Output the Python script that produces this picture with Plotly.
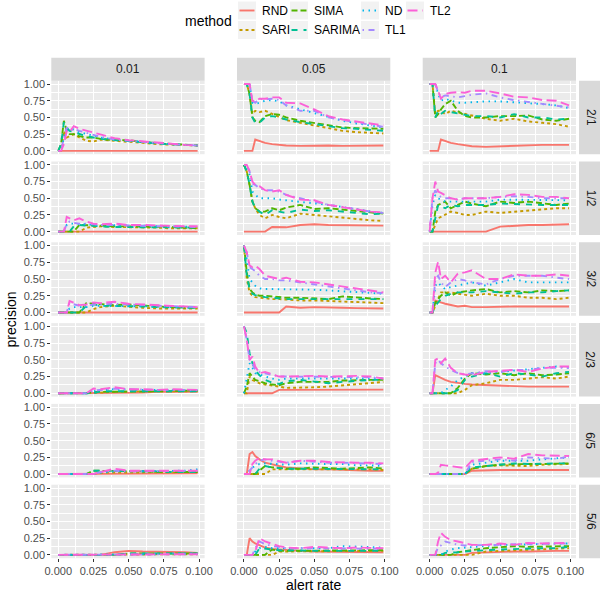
import plotly.graph_objects as go

# ---------------- data ----------------
X = [0, 0.002, 0.004, 0.006, 0.008, 0.011, 0.015, 0.020, 0.025, 0.030,
     0.040, 0.050, 0.060, 0.070, 0.080, 0.090, 0.099]

methods = ["RND", "SARI", "SIMA", "SARIMA", "ND", "TL1", "TL2"]
ratios = ["2/1", "1/2", "3/2", "2/3", "6/5", "5/6"]
levels = ["0.01", "0.05", "0.1"]
x_ticks = [0, 0.025, 0.05, 0.075, 0.1]
x_tick_labels = ["0.000", "0.025", "0.050", "0.075", "0.100"]
y_ticks = [0, 0.25, 0.5, 0.75, 1.0]
y_tick_labels = ["0.00", "0.25", "0.50", "0.75", "1.00"]

Z = [0] * 17

p_21_001 = dict(
    RND=Z,
    SARI=[0, 0, 0.3, 0.2, 0.22, 0.25, 0.2, 0.15, 0.14, 0.17, 0.15, 0.14, 0.12, 0.1, 0.09, 0.08, 0.08],
    SIMA=[0, 0.1, 0.45, 0.3, 0.25, 0.25, 0.22, 0.2, 0.2, 0.18, 0.16, 0.16, 0.13, 0.12, 0.1, 0.09, 0.08],
    SARIMA=[0, 0.1, 0.43, 0.35, 0.3, 0.28, 0.25, 0.22, 0.2, 0.18, 0.16, 0.15, 0.13, 0.11, 0.1, 0.09, 0.08],
    ND=[0, 0, 0.2, 0.3, 0.33, 0.32, 0.28, 0.25, 0.22, 0.2, 0.17, 0.15, 0.13, 0.11, 0.1, 0.09, 0.08],
    TL1=[0, 0, 0.2, 0.35, 0.3, 0.33, 0.3, 0.27, 0.24, 0.21, 0.17, 0.15, 0.13, 0.11, 0.1, 0.09, 0.08],
    TL2=[0, 0, 0.1, 0.3, 0.28, 0.37, 0.33, 0.3, 0.28, 0.24, 0.19, 0.16, 0.14, 0.12, 0.1, 0.09, 0.08],
)
p_21_005 = dict(
    RND=[0, 0, 0, 0, 0.17, 0.15, 0.12, 0.1, 0.09, 0.08, 0.075, 0.08, 0.08, 0.075, 0.075, 0.08, 0.08],
    SARI=[1, 1, 0.85, 0.55, 0.6, 0.58, 0.6, 0.55, 0.5, 0.46, 0.42, 0.38, 0.34, 0.3, 0.28, 0.27, 0.26],
    SIMA=[1, 1, 0.85, 0.5, 0.45, 0.43, 0.52, 0.55, 0.54, 0.5, 0.45, 0.42, 0.38, 0.35, 0.34, 0.33, 0.33],
    SARIMA=[1, 1, 0.85, 0.5, 0.42, 0.42, 0.5, 0.52, 0.5, 0.47, 0.43, 0.4, 0.36, 0.34, 0.33, 0.31, 0.3],
    ND=[1, 1, 1, 0.72, 0.7, 0.72, 0.75, 0.76, 0.74, 0.68, 0.62, 0.56, 0.5, 0.45, 0.41, 0.38, 0.35],
    TL1=[1, 1, 1, 0.75, 0.72, 0.78, 0.77, 0.78, 0.76, 0.68, 0.6, 0.6, 0.5, 0.46, 0.42, 0.39, 0.36],
    TL2=[1, 1, 1, 0.75, 0.74, 0.78, 0.78, 0.8, 0.8, 0.72, 0.71, 0.62, 0.52, 0.47, 0.44, 0.41, 0.38],
)
p_21_01 = dict(
    RND=[0, 0, 0, 0, 0.17, 0.15, 0.12, 0.1, 0.08, 0.07, 0.06, 0.07, 0.08, 0.09, 0.09, 0.09, 0.09],
    SARI=[1, 1, 0.55, 0.6, 0.6, 0.55, 0.6, 0.58, 0.55, 0.53, 0.48, 0.45, 0.48, 0.44, 0.42, 0.4, 0.36],
    SIMA=[1, 1, 0.5, 0.55, 0.62, 0.7, 0.75, 0.6, 0.52, 0.5, 0.5, 0.52, 0.52, 0.53, 0.47, 0.45, 0.48],
    SARIMA=[1, 1, 0.5, 0.6, 0.55, 0.6, 0.58, 0.56, 0.55, 0.52, 0.52, 0.5, 0.55, 0.5, 0.5, 0.47, 0.48],
    ND=[1, 1, 1, 0.85, 0.75, 0.78, 0.75, 0.72, 0.72, 0.73, 0.74, 0.74, 0.73, 0.72, 0.7, 0.68, 0.64],
    TL1=[1, 1, 1, 0.88, 0.8, 0.83, 0.82, 0.8, 0.82, 0.84, 0.86, 0.8, 0.76, 0.73, 0.7, 0.68, 0.65],
    TL2=[1, 1, 1, 0.9, 0.78, 0.85, 0.87, 0.88, 0.87, 0.9, 0.9, 0.86, 0.81, 0.8, 0.76, 0.75, 0.68],
)
p_12_001 = dict(
    RND=Z,
    SARI=[0, 0, 0, 0, 0, 0, 0, 0.06, 0.07, 0.08, 0.07, 0.07, 0.06, 0.06, 0.05, 0.05, 0.05],
    SIMA=[0, 0, 0, 0, 0, 0, 0.1, 0.1, 0.09, 0.09, 0.08, 0.08, 0.08, 0.07, 0.07, 0.06, 0.05],
    SARIMA=[0, 0, 0, 0, 0, 0.08, 0.1, 0.09, 0.08, 0.08, 0.07, 0.07, 0.07, 0.07, 0.06, 0.06, 0.06],
    ND=[0, 0, 0, 0.1, 0.12, 0.12, 0.12, 0.11, 0.1, 0.1, 0.09, 0.09, 0.09, 0.08, 0.08, 0.07, 0.07],
    TL1=[0, 0, 0, 0.12, 0.15, 0.13, 0.12, 0.12, 0.11, 0.1, 0.1, 0.09, 0.09, 0.08, 0.08, 0.07, 0.07],
    TL2=[0, 0, 0, 0.22, 0.2, 0.17, 0.2, 0.15, 0.12, 0.11, 0.12, 0.1, 0.1, 0.09, 0.08, 0.08, 0.08],
)
p_12_005 = dict(
    RND=[0, 0, 0, 0, 0, 0, 0, 0.07, 0.07, 0.065, 0.1, 0.11, 0.1, 0.1, 0.09, 0.09, 0.09],
    SARI=[1, 0.9, 0.7, 0.45, 0.35, 0.25, 0.2, 0.25, 0.22, 0.2, 0.27, 0.25, 0.22, 0.2, 0.18, 0.17, 0.16],
    SIMA=[1, 0.9, 0.7, 0.45, 0.35, 0.3, 0.3, 0.35, 0.32, 0.36, 0.4, 0.34, 0.35, 0.33, 0.3, 0.28, 0.27],
    SARIMA=[1, 0.9, 0.7, 0.45, 0.35, 0.3, 0.25, 0.32, 0.3, 0.28, 0.33, 0.31, 0.32, 0.3, 0.28, 0.26, 0.27],
    ND=[1, 1, 0.85, 0.6, 0.55, 0.5, 0.5, 0.5, 0.48, 0.47, 0.45, 0.42, 0.4, 0.37, 0.33, 0.3, 0.28],
    TL1=[1, 1, 0.9, 0.72, 0.7, 0.65, 0.62, 0.62, 0.6, 0.55, 0.5, 0.45, 0.4, 0.37, 0.33, 0.3, 0.28],
    TL2=[1, 1, 0.9, 0.75, 0.7, 0.68, 0.62, 0.6, 0.62, 0.55, 0.48, 0.47, 0.4, 0.37, 0.34, 0.3, 0.29],
)
p_12_01 = dict(
    RND=[0, 0, 0, 0, 0, 0, 0, 0, 0, 0, 0, 0.075, 0.09, 0.1, 0.1, 0.11, 0.11],
    SARI=[0, 0, 0.1, 0.2, 0.22, 0.25, 0.3, 0.28, 0.25, 0.25, 0.3, 0.28, 0.3, 0.32, 0.33, 0.35, 0.35],
    SIMA=[0, 0, 0.3, 0.4, 0.42, 0.45, 0.35, 0.4, 0.45, 0.42, 0.38, 0.45, 0.43, 0.45, 0.42, 0.4, 0.42],
    SARIMA=[0, 0, 0.2, 0.4, 0.38, 0.35, 0.4, 0.38, 0.4, 0.4, 0.4, 0.42, 0.41, 0.4, 0.4, 0.4, 0.4],
    ND=[0, 0.4, 0.55, 0.5, 0.48, 0.45, 0.45, 0.45, 0.45, 0.44, 0.45, 0.48, 0.48, 0.48, 0.48, 0.47, 0.47],
    TL1=[0, 0.5, 0.62, 0.55, 0.52, 0.5, 0.5, 0.48, 0.5, 0.5, 0.5, 0.52, 0.53, 0.52, 0.5, 0.5, 0.5],
    TL2=[0, 0.5, 0.75, 0.6, 0.58, 0.55, 0.5, 0.48, 0.5, 0.5, 0.5, 0.52, 0.56, 0.55, 0.52, 0.52, 0.5],
)
p_32_001 = dict(
    RND=Z,
    SARI=[0, 0, 0, 0, 0, 0, 0, 0, 0.05, 0.08, 0.1, 0.08, 0.07, 0.06, 0.06, 0.06, 0.06],
    SIMA=[0, 0, 0, 0, 0, 0, 0, 0.14, 0.13, 0.12, 0.11, 0.12, 0.1, 0.09, 0.08, 0.07, 0.07],
    SARIMA=[0, 0, 0, 0, 0, 0, 0, 0.1, 0.12, 0.1, 0.1, 0.1, 0.09, 0.08, 0.08, 0.07, 0.07],
    ND=[0, 0, 0, 0, 0.06, 0.08, 0.08, 0.08, 0.1, 0.1, 0.1, 0.1, 0.09, 0.09, 0.08, 0.08, 0.07],
    TL1=[0, 0, 0, 0, 0.14, 0.12, 0.1, 0.1, 0.12, 0.12, 0.13, 0.12, 0.11, 0.1, 0.09, 0.08, 0.08],
    TL2=[0, 0, 0, 0, 0.17, 0.14, 0.11, 0.12, 0.15, 0.14, 0.16, 0.13, 0.12, 0.1, 0.09, 0.08, 0.08],
)
p_32_005 = dict(
    RND=[0, 0, 0, 0, 0, 0, 0, 0, 0, 0.09, 0.07, 0.08, 0.07, 0.07, 0.065, 0.06, 0.06],
    SARI=[1, 0.5, 0.3, 0.25, 0.23, 0.22, 0.21, 0.2, 0.2, 0.19, 0.18, 0.18, 0.17, 0.16, 0.15, 0.15, 0.14],
    SIMA=[1, 0.6, 0.35, 0.3, 0.27, 0.25, 0.25, 0.24, 0.23, 0.22, 0.22, 0.21, 0.2, 0.24, 0.22, 0.21, 0.2],
    SARIMA=[1, 0.55, 0.35, 0.28, 0.26, 0.24, 0.23, 0.22, 0.21, 0.2, 0.2, 0.2, 0.2, 0.21, 0.2, 0.2, 0.2],
    ND=[1, 0.8, 0.5, 0.45, 0.4, 0.36, 0.35, 0.35, 0.35, 0.34, 0.35, 0.34, 0.33, 0.32, 0.3, 0.29, 0.28],
    TL1=[1, 0.9, 0.68, 0.65, 0.62, 0.55, 0.5, 0.5, 0.48, 0.48, 0.45, 0.42, 0.4, 0.37, 0.33, 0.3, 0.29],
    TL2=[1, 0.9, 0.7, 0.68, 0.7, 0.65, 0.55, 0.53, 0.5, 0.52, 0.46, 0.45, 0.42, 0.38, 0.35, 0.32, 0.3],
)
p_32_01 = dict(
    RND=[0, 0, 0.18, 0.17, 0.15, 0.13, 0.11, 0.09, 0.1, 0.08, 0.08, 0.09, 0.09, 0.09, 0.09, 0.09, 0.09],
    SARI=[0, 0, 0.1, 0.2, 0.3, 0.3, 0.3, 0.28, 0.26, 0.25, 0.28, 0.25, 0.25, 0.22, 0.22, 0.2, 0.22],
    SIMA=[0, 0, 0.15, 0.2, 0.25, 0.3, 0.25, 0.3, 0.32, 0.33, 0.35, 0.3, 0.32, 0.3, 0.33, 0.32, 0.33],
    SARIMA=[0, 0, 0.1, 0.15, 0.2, 0.25, 0.28, 0.3, 0.3, 0.3, 0.32, 0.3, 0.28, 0.3, 0.3, 0.32, 0.33],
    ND=[0, 0, 0.4, 0.45, 0.4, 0.35, 0.38, 0.4, 0.42, 0.45, 0.4, 0.45, 0.5, 0.45, 0.45, 0.45, 0.45],
    TL1=[0, 0, 0.5, 0.55, 0.45, 0.38, 0.45, 0.5, 0.48, 0.45, 0.42, 0.5, 0.55, 0.55, 0.55, 0.52, 0.5],
    TL2=[0, 0, 0.6, 0.76, 0.5, 0.55, 0.45, 0.58, 0.6, 0.63, 0.5, 0.5, 0.57, 0.55, 0.55, 0.57, 0.55],
)
p_23_001 = dict(
    RND=[0, 0, 0, 0, 0, 0, 0, 0, 0, 0, 0, 0.01, 0.01, 0.02, 0.02, 0.02, 0.02],
    SARI=[0, 0, 0, 0, 0, 0, 0, 0, 0, 0.01, 0.02, 0.03, 0.03, 0.03, 0.03, 0.03, 0.03],
    SIMA=[0, 0, 0, 0, 0, 0, 0, 0, 0.02, 0.02, 0.02, 0.03, 0.03, 0.03, 0.03, 0.04, 0.04],
    SARIMA=[0, 0, 0, 0, 0, 0, 0, 0, 0, 0.03, 0.03, 0.04, 0.04, 0.04, 0.03, 0.03, 0.03],
    ND=[0, 0, 0, 0, 0, 0, 0, 0, 0.03, 0.05, 0.06, 0.05, 0.05, 0.05, 0.05, 0.05, 0.04],
    TL1=[0, 0, 0, 0, 0, 0, 0, 0, 0.04, 0.05, 0.07, 0.06, 0.05, 0.05, 0.05, 0.05, 0.05],
    TL2=[0, 0, 0, 0, 0, 0, 0, 0, 0.07, 0.06, 0.09, 0.06, 0.06, 0.05, 0.06, 0.05, 0.05],
)
p_23_005 = dict(
    RND=[0, 0, 0, 0, 0, 0, 0, 0, 0.05, 0.05, 0.05, 0.045, 0.045, 0.045, 0.045, 0.055, 0.055],
    SARI=[0, 0, 0.25, 0.2, 0.18, 0.15, 0.13, 0.12, 0.1, 0.08, 0.08, 0.09, 0.1, 0.12, 0.13, 0.15, 0.17],
    SIMA=[0, 0.1, 0.3, 0.25, 0.2, 0.18, 0.15, 0.13, 0.12, 0.15, 0.17, 0.17, 0.17, 0.19, 0.2, 0.2, 0.2],
    SARIMA=[1, 0.9, 0.6, 0.45, 0.35, 0.27, 0.2, 0.16, 0.14, 0.18, 0.2, 0.18, 0.15, 0.17, 0.19, 0.2, 0.2],
    ND=[0, 0.2, 0.45, 0.38, 0.3, 0.28, 0.25, 0.22, 0.2, 0.22, 0.22, 0.22, 0.22, 0.23, 0.23, 0.23, 0.22],
    TL1=[1, 0.8, 0.5, 0.45, 0.35, 0.32, 0.3, 0.28, 0.25, 0.25, 0.25, 0.25, 0.25, 0.25, 0.25, 0.24, 0.22],
    TL2=[1, 0.8, 0.5, 0.55, 0.4, 0.3, 0.32, 0.28, 0.25, 0.25, 0.26, 0.26, 0.25, 0.26, 0.26, 0.25, 0.22],
)
p_23_01 = dict(
    RND=[0, 0, 0.27, 0.25, 0.22, 0.2, 0.17, 0.15, 0.14, 0.13, 0.12, 0.12, 0.11, 0.1, 0.1, 0.1, 0.1],
    SARI=[0, 0, 0, 0, 0, 0, 0, 0, 0.05, 0.12, 0.15, 0.2, 0.2, 0.22, 0.24, 0.22, 0.25],
    SIMA=[0, 0, 0, 0, 0, 0, 0, 0.08, 0.22, 0.3, 0.28, 0.3, 0.27, 0.3, 0.27, 0.28, 0.3],
    SARIMA=[0, 0, 0, 0, 0, 0, 0, 0.05, 0.2, 0.25, 0.3, 0.25, 0.3, 0.28, 0.25, 0.3, 0.32],
    ND=[0, 0, 0, 0, 0, 0.05, 0.1, 0.2, 0.25, 0.3, 0.3, 0.32, 0.33, 0.35, 0.37, 0.4, 0.38],
    TL1=[0, 0, 0.45, 0.5, 0.45, 0.4, 0.35, 0.3, 0.28, 0.3, 0.33, 0.32, 0.35, 0.35, 0.38, 0.38, 0.38],
    TL2=[0, 0, 0.5, 0.52, 0.45, 0.52, 0.38, 0.3, 0.28, 0.27, 0.32, 0.33, 0.35, 0.32, 0.37, 0.4, 0.4],
)
p_65_001 = dict(
    RND=[0, 0, 0, 0, 0, 0, 0, 0, 0, 0, 0, 0, 0.01, 0.01, 0.01, 0.01, 0.01],
    SARI=[0, 0, 0, 0, 0, 0, 0, 0, 0, 0.02, 0.02, 0.02, 0.03, 0.03, 0.03, 0.03, 0.03],
    SIMA=[0, 0, 0, 0, 0, 0, 0, 0, 0.05, 0.05, 0.04, 0.04, 0.04, 0.03, 0.03, 0.03, 0.03],
    SARIMA=[0, 0, 0, 0, 0, 0, 0, 0, 0.05, 0.05, 0.05, 0.04, 0.04, 0.04, 0.03, 0.03, 0.03],
    ND=[0, 0, 0, 0, 0, 0, 0, 0, 0, 0.02, 0.04, 0.04, 0.04, 0.04, 0.04, 0.05, 0.07],
    TL1=[0, 0, 0, 0, 0, 0, 0, 0, 0, 0.03, 0.05, 0.04, 0.04, 0.04, 0.04, 0.05, 0.05],
    TL2=[0, 0, 0, 0, 0, 0, 0, 0, 0, 0.03, 0.08, 0.05, 0.05, 0.04, 0.04, 0.05, 0.05],
)
p_65_005 = dict(
    RND=[0, 0, 0.3, 0.33, 0.27, 0.22, 0.17, 0.14, 0.12, 0.1, 0.08, 0.07, 0.07, 0.06, 0.06, 0.05, 0.05],
    SARI=[0, 0, 0, 0, 0, 0, 0, 0.07, 0.07, 0.07, 0.08, 0.08, 0.07, 0.07, 0.07, 0.07, 0.06],
    SIMA=[0, 0, 0, 0, 0, 0.05, 0.12, 0.1, 0.09, 0.08, 0.08, 0.1, 0.09, 0.08, 0.09, 0.1, 0.08],
    SARIMA=[0, 0, 0, 0, 0, 0.08, 0.12, 0.1, 0.09, 0.08, 0.08, 0.08, 0.08, 0.07, 0.07, 0.07, 0.07],
    ND=[0, 0, 0.05, 0.1, 0.12, 0.15, 0.16, 0.15, 0.15, 0.14, 0.16, 0.15, 0.15, 0.15, 0.13, 0.13, 0.12],
    TL1=[0, 0, 0.05, 0.1, 0.15, 0.2, 0.22, 0.2, 0.18, 0.17, 0.2, 0.18, 0.17, 0.17, 0.16, 0.16, 0.15],
    TL2=[0, 0, 0, 0.15, 0.2, 0.24, 0.22, 0.22, 0.2, 0.17, 0.2, 0.2, 0.18, 0.17, 0.17, 0.17, 0.16],
)
p_65_01 = dict(
    RND=[0, 0, 0, 0, 0, 0, 0, 0, 0, 0.05, 0.06, 0.06, 0.06, 0.06, 0.05, 0.05, 0.06],
    SARI=[0, 0, 0, 0, 0, 0, 0, 0, 0, 0.08, 0.12, 0.13, 0.13, 0.12, 0.14, 0.14, 0.15],
    SIMA=[0, 0, 0, 0, 0, 0, 0, 0, 0, 0.08, 0.12, 0.14, 0.15, 0.15, 0.15, 0.15, 0.16],
    SARIMA=[0, 0, 0, 0, 0, 0, 0, 0, 0, 0.1, 0.12, 0.15, 0.16, 0.15, 0.16, 0.16, 0.16],
    ND=[0, 0, 0, 0, 0, 0, 0, 0, 0, 0.14, 0.17, 0.2, 0.2, 0.2, 0.22, 0.23, 0.25],
    TL1=[0, 0, 0, 0, 0, 0, 0, 0, 0, 0.18, 0.2, 0.22, 0.2, 0.25, 0.24, 0.23, 0.26],
    TL2=[0, 0, 0, 0.02, 0.14, 0.13, 0.12, 0.1, 0.09, 0.2, 0.22, 0.25, 0.23, 0.3, 0.28, 0.27, 0.27],
)
p_56_001 = dict(
    RND=[0, 0, 0, 0, 0, 0, 0, 0, 0, 0, 0.04, 0.06, 0.05, 0.05, 0.04, 0.04, 0.03],
    SARI=[0, 0, 0, 0, 0, 0, 0, 0, 0, 0, 0, 0, 0.01, 0.01, 0.01, 0.01, 0.01],
    SIMA=[0, 0, 0, 0, 0, 0, 0, 0, 0, 0, 0, 0.02, 0.02, 0.02, 0.02, 0.02, 0.02],
    SARIMA=[0, 0, 0, 0, 0, 0, 0, 0, 0, 0, 0, 0.02, 0.02, 0.02, 0.02, 0.02, 0.02],
    ND=[0, 0, 0, 0, 0, 0, 0, 0, 0, 0, 0, 0.01, 0.01, 0.01, 0.02, 0.02, 0.02],
    TL1=[0, 0, 0, 0, 0, 0, 0, 0, 0, 0, 0, 0.01, 0.01, 0.01, 0.01, 0.01, 0.01],
    TL2=[0, 0, 0, 0, 0, 0, 0, 0, 0, 0, 0, 0.01, 0.01, 0.01, 0.01, 0.01, 0.01],
)
p_56_005 = dict(
    RND=[0, 0, 0.25, 0.2, 0.17, 0.14, 0.11, 0.09, 0.08, 0.07, 0.06, 0.05, 0.05, 0.05, 0.04, 0.04, 0.04],
    SARI=[0, 0, 0, 0, 0, 0, 0, 0, 0.05, 0.05, 0.05, 0.05, 0.05, 0.05, 0.05, 0.06, 0.06],
    SIMA=[0, 0, 0, 0, 0, 0, 0, 0.08, 0.06, 0.06, 0.06, 0.07, 0.06, 0.06, 0.07, 0.07, 0.07],
    SARIMA=[0, 0, 0, 0, 0, 0.1, 0.09, 0.08, 0.07, 0.07, 0.06, 0.06, 0.06, 0.06, 0.06, 0.06, 0.06],
    ND=[0, 0, 0, 0, 0.05, 0.1, 0.12, 0.1, 0.1, 0.1, 0.1, 0.11, 0.1, 0.13, 0.12, 0.12, 0.11],
    TL1=[0, 0, 0, 0, 0.1, 0.2, 0.16, 0.13, 0.12, 0.1, 0.1, 0.1, 0.1, 0.1, 0.1, 0.1, 0.09],
    TL2=[0, 0, 0, 0, 0.05, 0.25, 0.2, 0.16, 0.13, 0.11, 0.1, 0.12, 0.11, 0.1, 0.11, 0.1, 0.1],
)
p_56_01 = dict(
    RND=[0, 0, 0, 0, 0, 0, 0, 0, 0, 0.03, 0.04, 0.05, 0.05, 0.05, 0.06, 0.06, 0.06],
    SARI=[0, 0, 0, 0, 0, 0, 0, 0, 0, 0, 0.05, 0.06, 0.07, 0.08, 0.09, 0.1, 0.1],
    SIMA=[0, 0, 0, 0, 0, 0, 0, 0.04, 0.06, 0.07, 0.1, 0.12, 0.13, 0.12, 0.12, 0.12, 0.13],
    SARIMA=[0, 0, 0, 0, 0, 0.03, 0.03, 0.04, 0.05, 0.06, 0.07, 0.08, 0.09, 0.1, 0.1, 0.1, 0.12],
    ND=[0, 0, 0, 0, 0, 0.05, 0.08, 0.1, 0.11, 0.12, 0.13, 0.15, 0.15, 0.16, 0.16, 0.17, 0.17],
    TL1=[0, 0, 0, 0.12, 0.14, 0.2, 0.18, 0.15, 0.14, 0.14, 0.15, 0.15, 0.16, 0.16, 0.17, 0.17, 0.17],
    TL2=[0, 0, 0, 0.2, 0.33, 0.27, 0.22, 0.2, 0.17, 0.15, 0.15, 0.17, 0.15, 0.18, 0.17, 0.18, 0.18],
)

PANELS = [
    [p_21_001, p_21_005, p_21_01],
    [p_12_001, p_12_005, p_12_01],
    [p_32_001, p_32_005, p_32_01],
    [p_23_001, p_23_005, p_23_01],
    [p_65_001, p_65_005, p_65_01],
    [p_56_001, p_56_005, p_56_01],
]

# ---------------- style ----------------
colors = ["#F8766D", "#C49A00", "#53B400", "#00C094", "#00B6EB", "#A58AFF", "#FB61D7"]
dashes = ["solid", "3px,3px", "6px,3px", "6px,6px", "1.5px,4.5px",
          "1.5px,4.5px,6px,4.5px", "10px,4.5px"]
FONT = "Liberation Sans, Arial, sans-serif"
W, H = 600, 593
LW = 1.9

col_left = [51.3, 237.0, 422.7]
panel_w = 153.3
row_top0, row_step, panel_h = 80.7, 80.8, 73.5
strip_h = 23.0

fig = go.Figure()
layout = dict(
    width=W, height=H, margin=dict(l=0, r=0, t=0, b=0, pad=0, autoexpand=False),
    paper_bgcolor="white", plot_bgcolor="#EBEBEB",
    showlegend=False, font=dict(family=FONT),
)
shapes, annotations = [], []


def px(x):
    return x / W


def py(y):
    return 1 - y / H


for r in range(6):
    for c in range(3):
        idx = r * 3 + c + 1
        sfx = "" if idx == 1 else str(idx)
        l = col_left[c]
        t = row_top0 + r * row_step
        bottom_row = (r == 5)
        left_col = (c == 0)
        layout["xaxis" + sfx] = dict(
            domain=[px(l), px(l + panel_w)], anchor="y" + sfx,
            range=[-0.00495, 0.10395], tickvals=x_ticks, ticktext=x_tick_labels,
            showticklabels=bottom_row, ticks="outside" if bottom_row else "",
            ticklen=3, tickwidth=1, tickcolor="#333333",
            tickfont=dict(size=11, color="#4D4D4D", family=FONT),
            showgrid=True, gridcolor="white", gridwidth=1.3,
            minor=dict(tickvals=[0.0125, 0.0375, 0.0625, 0.0875], showgrid=True,
                       gridcolor="white", gridwidth=0.6),
            zeroline=False, showline=False, fixedrange=True, automargin=False,
        )
        layout["yaxis" + sfx] = dict(
            domain=[py(t + panel_h), py(t)], anchor="x" + sfx,
            range=[-0.05, 1.05], tickvals=y_ticks, ticktext=y_tick_labels,
            showticklabels=left_col, ticks="outside" if left_col else "",
            ticklen=3, tickwidth=1, tickcolor="#333333",
            tickfont=dict(size=11, color="#4D4D4D", family=FONT),
            showgrid=True, gridcolor="white", gridwidth=1.3,
            minor=dict(tickvals=[0.125, 0.375, 0.625, 0.875], showgrid=True,
                       gridcolor="white", gridwidth=0.6),
            zeroline=False, showline=False, fixedrange=True, automargin=False,
        )
        panel = PANELS[r][c]
        for m, col, dsh in zip(methods, colors, dashes):
            fig.add_trace(go.Scatter(
                x=X, y=panel[m], mode="lines", name=m,
                line=dict(color=col, width=LW, dash=dsh),
                xaxis="x" + sfx, yaxis="y" + sfx, hoverinfo="skip", showlegend=False,
            ))

# top strips
for c, lev in enumerate(levels):
    l = col_left[c]
    shapes.append(dict(type="rect", xref="paper", yref="paper",
                       x0=px(l), x1=px(l + panel_w), y0=py(row_top0), y1=py(row_top0 - strip_h),
                       fillcolor="#D9D9D9", line=dict(width=0), layer="below"))
    annotations.append(dict(text=lev, xref="paper", yref="paper",
                            x=px(l + panel_w / 2), y=py(row_top0 - strip_h / 2),
                            showarrow=False, font=dict(size=12, color="#1A1A1A", family=FONT),
                            xanchor="center", yanchor="middle"))
# right strips
sx0 = col_left[2] + panel_w + 3.0
for r, rat in enumerate(ratios):
    t = row_top0 + r * row_step
    shapes.append(dict(type="rect", xref="paper", yref="paper",
                       x0=px(sx0), x1=px(sx0 + strip_h), y0=py(t + panel_h), y1=py(t),
                       fillcolor="#D9D9D9", line=dict(width=0), layer="below"))
    annotations.append(dict(text=rat, xref="paper", yref="paper",
                            x=px(sx0 + strip_h / 2), y=py(t + panel_h / 2), textangle=90,
                            showarrow=False, font=dict(size=12, color="#1A1A1A", family=FONT),
                            xanchor="center", yanchor="middle"))

# axis titles
annotations.append(dict(text="alert rate", xref="paper", yref="paper",
                        x=px((col_left[0] + col_left[2] + panel_w) / 2), y=py(585),
                        showarrow=False, font=dict(size=14, color="black", family=FONT),
                        xanchor="center", yanchor="middle", borderpad=0))
annotations.append(dict(text="precision", xref="paper", yref="paper",
                        x=px(11), y=py(row_top0 + (5 * row_step + panel_h) / 2), textangle=-90,
                        showarrow=False, font=dict(size=14, color="black", family=FONT),
                        xanchor="center", yanchor="middle"))

# legend (ggplot style, 4 columns x 2 rows, column-major)
annotations.append(dict(text="method", xref="paper", yref="paper", x=px(234), y=py(21),
                        showarrow=False, font=dict(size=14, color="black", family=FONT),
                        xanchor="right", yanchor="middle"))
key_x = [238, 290, 361, 406]
key_y = [10.5, 30]
key_s = 18
for i, (m, col, dsh) in enumerate(zip(methods, colors, dashes)):
    cx = key_x[i // 2]
    cy = key_y[i % 2]
    shapes.append(dict(type="rect", xref="paper", yref="paper",
                       x0=px(cx), x1=px(cx + key_s), y0=py(cy + key_s / 2), y1=py(cy - key_s / 2),
                       fillcolor="#F2F2F2", line=dict(width=0)))
    shapes.append(dict(type="line", xref="paper", yref="paper",
                       x0=px(cx + 1.5), x1=px(cx + key_s - 1.5), y0=py(cy), y1=py(cy),
                       line=dict(color=col, width=LW, dash=dsh)))
    annotations.append(dict(text=m, xref="paper", yref="paper", x=px(cx + key_s + 4), y=py(cy),
                            showarrow=False, font=dict(size=12, color="black", family=FONT),
                            xanchor="left", yanchor="middle"))

layout["shapes"] = shapes
layout["annotations"] = annotations
fig.update_layout(**layout)
fig.write_html("out.html", config={"displayModeBar": False},
               post_script="document.body.style.margin='0';document.body.style.overflow='hidden';")
